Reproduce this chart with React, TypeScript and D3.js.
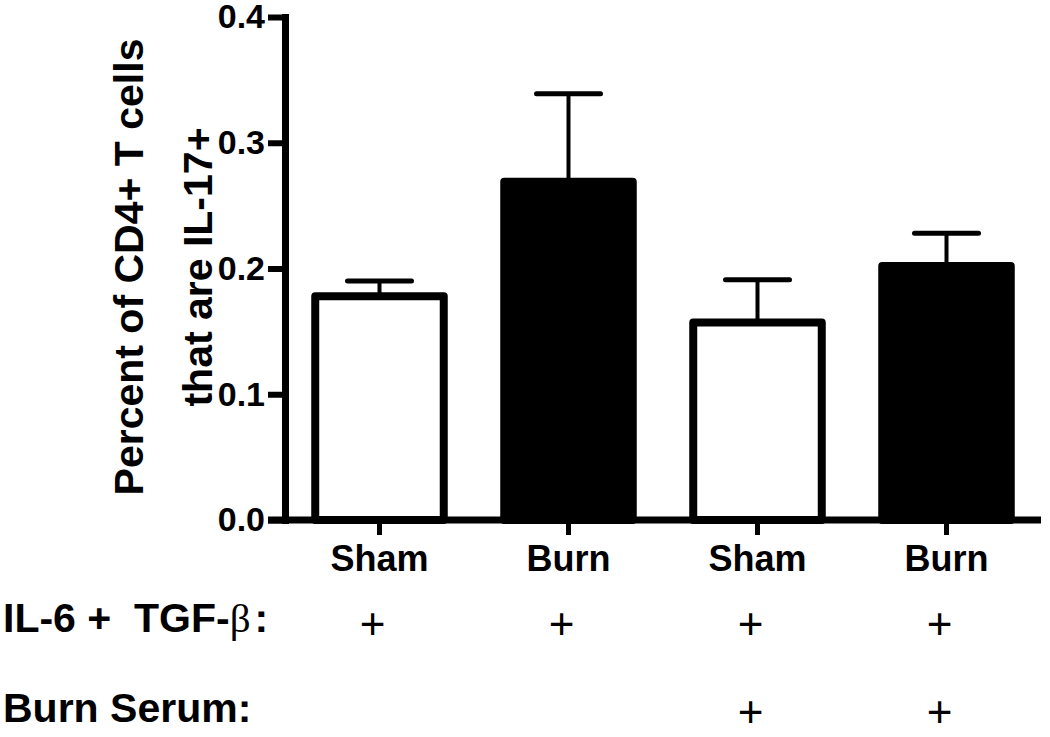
import React, { useEffect, useRef } from 'react';
import * as d3 from 'd3';

const groups = ['Sham', 'Burn', 'Sham', 'Burn'];
const means = [0.178, 0.269, 0.157, 0.202];
const sems = [0.012, 0.07, 0.034, 0.026];
const fills = ['white', 'black', 'white', 'black'];
const yTicks = [0, 0.1, 0.2, 0.3, 0.4];
const ilTgfRow = [true, true, true, true];
const burnSerumRow = [false, false, true, true];

const FONT = '"Liberation Sans", Arial, sans-serif';

const Chart = () => {
  const ref = useRef<SVGSVGElement>(null);

  useEffect(() => {
    const svg = d3.select(ref.current);
    svg.selectAll('*').remove();

    const data = groups.map((g, i) => ({ key: String(i), group: g, mean: means[i], sem: sems[i], fill: fills[i] }));

    const x = d3
      .scaleBand()
      .domain(data.map((d) => d.key))
      .range([285, 1041])
      .paddingInner(0.32)
      .paddingOuter(0.16);
    const y = d3.scaleLinear().domain([0, 0.4]).range([520, 17]);

    // bars
    svg
      .selectAll('.bar')
      .data(data)
      .enter()
      .append('rect')
      .attr('class', 'bar')
      .attr('x', (d) => x(d.key))
      .attr('y', (d) => y(d.mean))
      .attr('width', x.bandwidth())
      .attr('height', (d) => y(0) - y(d.mean))
      .attr('fill', (d) => d.fill)
      .attr('stroke', 'black')
      .attr('stroke-width', 8)
      .attr('stroke-linejoin', 'round');

    // error bars (upper only)
    const cx = (d) => x(d.key) + x.bandwidth() / 2;
    svg
      .selectAll('.err')
      .data(data)
      .enter()
      .append('line')
      .attr('x1', cx)
      .attr('x2', cx)
      .attr('y1', (d) => y(d.mean))
      .attr('y2', (d) => y(d.mean + d.sem))
      .attr('stroke', 'black')
      .attr('stroke-width', 4);
    svg
      .selectAll('.cap')
      .data(data)
      .enter()
      .append('line')
      .attr('x1', (d) => cx(d) - 32)
      .attr('x2', (d) => cx(d) + 32)
      .attr('y1', (d) => y(d.mean + d.sem))
      .attr('y2', (d) => y(d.mean + d.sem))
      .attr('stroke', 'black')
      .attr('stroke-width', 5)
      .attr('stroke-linecap', 'round');

    // axes
    const yAxis = svg
      .append('g')
      .attr('transform', 'translate(285,0)')
      .call(d3.axisLeft(y).tickValues(yTicks).tickFormat(d3.format('.1f')).tickSize(17).tickSizeOuter(0).tickPadding(3));
    yAxis.select('.domain').attr('stroke-width', 7).attr('stroke-linecap', 'square');
    yAxis.selectAll('.tick line').attr('stroke-width', 6);
    yAxis
      .selectAll('.tick text')
      .attr('font-family', FONT)
      .attr('font-weight', 'bold')
      .attr('font-size', 34)
      .attr('fill', 'black');

    const xAxis = svg
      .append('g')
      .attr('transform', `translate(0,${y(0)})`)
      .call(d3.axisBottom(x).tickSize(15).tickSizeOuter(0).tickPadding(10).tickFormat((k) => groups[+k]));
    xAxis.select('.domain').attr('stroke-width', 7).attr('d', 'M268,0H1041');
    xAxis.selectAll('.tick line').attr('stroke-width', 5);
    xAxis
      .selectAll('.tick text')
      .attr('font-family', FONT)
      .attr('font-weight', 'bold')
      .attr('font-size', 36)
      .attr('fill', 'black');

    // y title
    const title = svg
      .append('text')
      .attr('transform', 'translate(0,267) rotate(-90)')
      .attr('text-anchor', 'middle')
      .attr('font-family', FONT)
      .attr('font-weight', 'bold')
      .attr('font-size', 41);
    title.append('tspan').attr('x', 0).attr('y', 143).text('Percent of CD4+ T cells');
    title.append('tspan').attr('x', 0).attr('y', 212).text('that are IL-17+');

    // treatment rows
    const row1 = svg
      .append('text')
      .attr('x', 3)
      .attr('y', 632)
      .attr('font-family', FONT)
      .attr('font-weight', 'bold')
      .attr('font-size', 41)
      .style('white-space', 'pre');
    row1.append('tspan').text('IL-6 +  TGF-');
    row1
      .append('tspan')
      .attr('font-family', '"Liberation Serif", "DejaVu Serif", serif')
      .attr('font-weight', 'normal')
      .text('β');
    row1.append('tspan').attr('dx', 4).text(':');

    svg
      .append('text')
      .attr('x', 3)
      .attr('y', 722)
      .attr('font-family', FONT)
      .attr('font-weight', 'bold')
      .attr('font-size', 41)
      .text('Burn Serum:');

    const plusRow = (flags, baseline) => {
      svg
        .selectAll(null)
        .data(data.filter((d, i) => flags[i]))
        .enter()
        .append('text')
        .attr('x', (d) => cx(d) - 7)
        .attr('y', baseline)
        .attr('text-anchor', 'middle')
        .attr('font-family', FONT)
        .attr('font-size', 44)
        .text('+');
    };
    plusRow(ilTgfRow, 639);
    plusRow(burnSerumRow, 727);
  }, []);

  return <svg ref={ref} width={1050} height={737} style={{ position: 'absolute', left: 0, top: 0, background: 'white' }} />;
};

export default function App() {
  return <Chart />;
}
